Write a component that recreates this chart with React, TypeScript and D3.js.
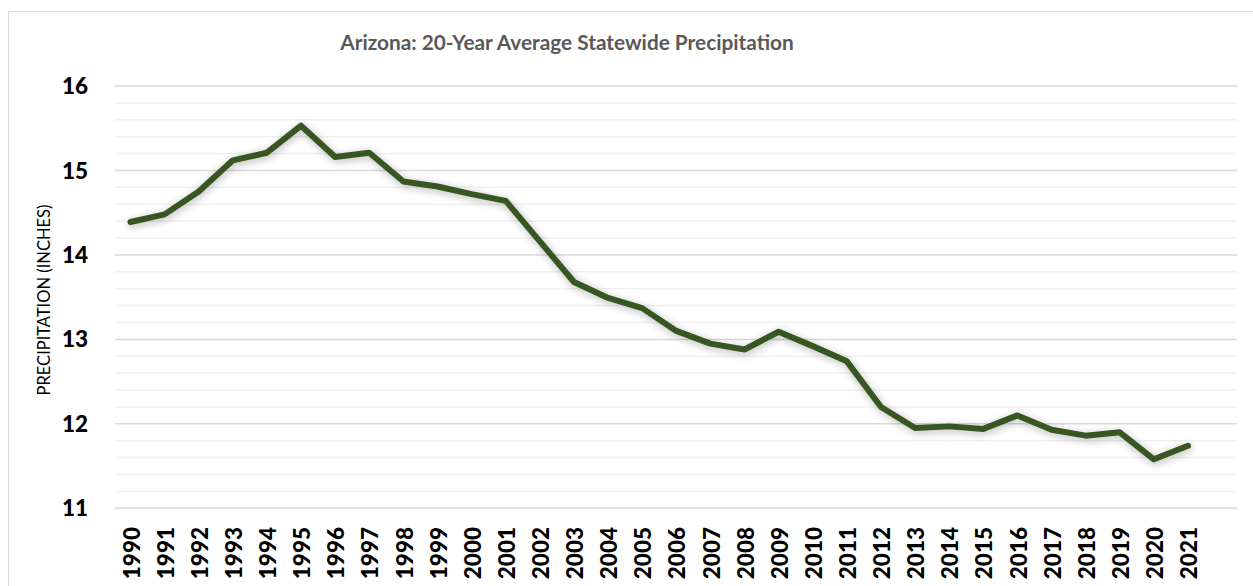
import React from "react";
import * as d3 from "d3";

const years: number[] = d3.range(1990, 2022);
const precip: number[] = [
  14.39, 14.48, 14.75, 15.12, 15.21, 15.53, 15.16, 15.21, 14.87, 14.81,
  14.72, 14.64, 14.16, 13.68, 13.49, 13.37, 13.1, 12.95, 12.88, 13.09,
  12.92, 12.74, 12.2, 11.95, 11.97, 11.94, 12.1, 11.93, 11.86, 11.9,
  11.58, 11.74,
];
const yMajorTicks: number[] = [11, 12, 13, 14, 15, 16];
const title = "Arizona: 20-Year Average Statewide Precipitation";
const yTitle = "PRECIPITATION (INCHES)";

const W = 1253;
const H = 586;

export default function App() {
  const x = d3.scalePoint<number>().domain(years).range([130.5, 1188]);
  const y = d3.scaleLinear().domain([11, 16]).range([508.3, 86]);
  const gridLeft = 115;
  const gridRight = 1237;
  const minor = d3.range(11, 16.001, 0.2).map((v) => Math.round(v * 10) / 10);
  const line = d3
    .line<number>()
    .x((_, i) => x(years[i]) as number)
    .y((d) => y(d));

  return (
    <svg
      width={W}
      height={H}
      style={{ position: "absolute", left: 0, top: 0, background: "#fff" }}
    >
      <defs>
        <filter id="sh" x="-10%" y="-20%" width="120%" height="140%">
          <feGaussianBlur in="SourceAlpha" stdDeviation="4.5" />
          <feOffset dx="1" dy="2" result="b" />
          <feComponentTransfer>
            <feFuncA type="linear" slope="0.3" />
          </feComponentTransfer>
          <feMerge>
            <feMergeNode />
            <feMergeNode in="SourceGraphic" />
          </feMerge>
        </filter>
      </defs>
      <rect x={8.5} y={11.5} width={1260} height={620} fill="#fff" stroke="#d9d9d9" strokeWidth={1} />
      <text
        x={567}
        y={50}
        textAnchor="middle"
        fontFamily="Lato, 'Open Sans', sans-serif"
        fontWeight="bold"
        fontSize={20.8}
        fill="#595959"
      >
        {title}
      </text>
      {minor.map((v) => (
        <line
          key={"m" + v}
          x1={gridLeft}
          x2={gridRight}
          y1={y(v)}
          y2={y(v)}
          stroke={Number.isInteger(v) ? "#d9d9d9" : "#f0f0f0"}
          strokeWidth={1.5}
        />
      ))}
      {yMajorTicks.map((v) => (
        <text
          key={"t" + v}
          x={88}
          y={y(v)}
          dy="0.36em"
          textAnchor="end"
          fontFamily="Lato, 'Open Sans', sans-serif"
          fontWeight="900"
          fontSize={22.5}
          fill="#000"
        >
          {v}
        </text>
      ))}
      <text
        transform={`translate(50,${300}) rotate(-90)`}
        textAnchor="middle"
        fontFamily="Lato, 'Open Sans', sans-serif"
        fontSize={16.5}
        fill="#000"
      >
        {yTitle}
      </text>
      {years.map((yr) => (
        <text
          key={"x" + yr}
          transform={`translate(${(x(yr) as number) + 1},${527}) rotate(-90)`}
          dy="0.36em"
          textAnchor="end"
          fontFamily="Lato, 'Open Sans', sans-serif"
          fontWeight="900"
          fontSize={22.5}
          fill="#000"
        >
          {yr}
        </text>
      ))}
      <path
        d={line(precip) || ""}
        fill="none"
        stroke="#375623"
        strokeWidth={6}
        strokeLinejoin="round"
        strokeLinecap="round"
        filter="url(#sh)"
      />
    </svg>
  );
}
